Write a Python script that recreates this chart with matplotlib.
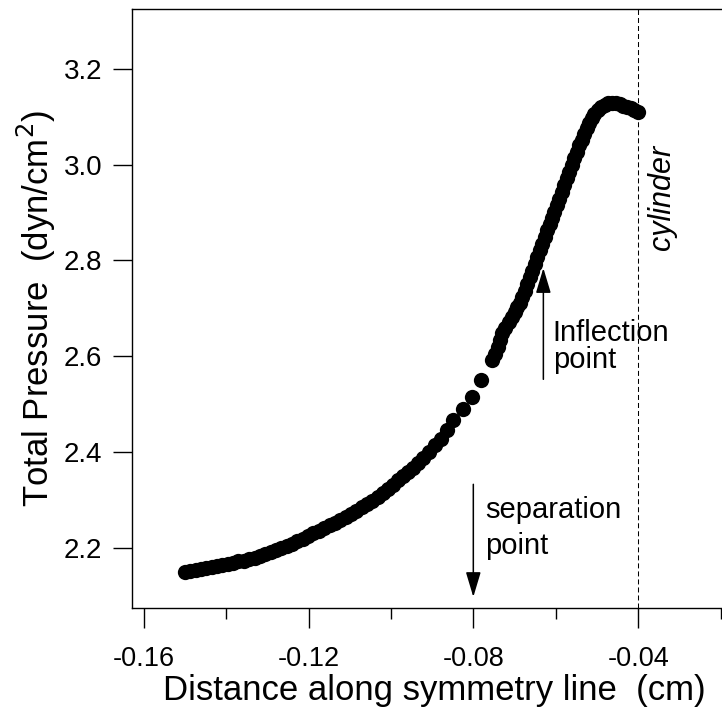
import matplotlib
matplotlib.use('Agg')
import matplotlib.pyplot as plt
from matplotlib.ticker import MultipleLocator

plt.rcParams['font.family'] = ['Liberation Sans', 'DejaVu Sans']

# distance along symmetry line (cm) and total pressure (dyn/cm^2)
distance = [
    -0.1500, -0.1487, -0.1474, -0.1461, -0.1448, -0.1435, -0.1422, -0.1409,
    -0.1396, -0.1383, -0.1370, -0.1357, -0.1344, -0.1331, -0.1318, -0.1305,
    -0.1292, -0.1279, -0.1266, -0.1253, -0.1240, -0.1227, -0.1214, -0.1201,
    -0.1188, -0.1175, -0.1162, -0.1149, -0.1136, -0.1123, -0.1110, -0.1097,
    -0.1084, -0.1071, -0.1058, -0.1045, -0.1032, -0.1019, -0.1006, -0.0994,
    -0.0982, -0.0970, -0.0958, -0.0946, -0.0934, -0.0921, -0.0907, -0.0893,
    -0.0879, -0.0864, -0.0849, -0.0824, -0.0802, -0.0782, -0.0755, -0.0748,
    -0.0739, -0.0735, -0.0731, -0.0722, -0.0714, -0.0707, -0.0700, -0.0693,
    -0.0687, -0.0681, -0.0675, -0.0669, -0.0663, -0.0657, -0.0651, -0.0645,
    -0.0639, -0.0633, -0.0627, -0.0621, -0.0615, -0.0609, -0.0603, -0.0597,
    -0.0591, -0.0585, -0.0579, -0.0573, -0.0567, -0.0561, -0.0555, -0.0549,
    -0.0543, -0.0537, -0.0531, -0.0525, -0.0519, -0.0513, -0.0506, -0.0498,
    -0.0490, -0.0481, -0.0472, -0.0463, -0.0454, -0.0445, -0.0436, -0.0427,
    -0.0418, -0.0409, -0.0400,
]
pressure = [
    2.151, 2.153, 2.155, 2.157, 2.159, 2.161, 2.163, 2.165,
    2.167, 2.169, 2.172, 2.174, 2.177, 2.180, 2.184, 2.188,
    2.192, 2.196, 2.200, 2.204, 2.209, 2.214, 2.219, 2.225,
    2.231, 2.236, 2.242, 2.248, 2.253, 2.259, 2.265, 2.271,
    2.278, 2.285, 2.292, 2.299, 2.307, 2.315, 2.324, 2.332,
    2.341, 2.350, 2.359, 2.368, 2.377, 2.388, 2.400, 2.414,
    2.428, 2.446, 2.468, 2.491, 2.516, 2.550, 2.592, 2.605,
    2.620, 2.633, 2.648, 2.660, 2.672, 2.682, 2.692, 2.702,
    2.712, 2.724, 2.737, 2.751, 2.765, 2.779, 2.793, 2.807,
    2.821, 2.835, 2.849, 2.863, 2.876, 2.889, 2.902, 2.915,
    2.929, 2.943, 2.957, 2.971, 2.985, 2.999, 3.013, 3.027,
    3.040, 3.052, 3.064, 3.076, 3.087, 3.097, 3.106, 3.114,
    3.120, 3.125, 3.128, 3.129, 3.128, 3.126, 3.123, 3.120,
    3.117, 3.114, 3.110,
]

x_ticks = [-0.16, -0.12, -0.08, -0.04]
x_tick_labels = ['-0.16', '-0.12', '-0.08', '-0.04']
y_ticks = [2.2, 2.4, 2.6, 2.8, 3.0, 3.2]
y_tick_labels = ['2.2', '2.4', '2.6', '2.8', '3.0', '3.2']

cylinder_x = -0.04
inflection_x = -0.063
inflection_arrow = (2.552, 2.784)   # tail, tip
separation_x = -0.08
separation_arrow = (2.333, 2.098)

fig = plt.figure(figsize=(7.22, 7.09), dpi=100)
ax = fig.add_axes([0.1835, 0.1420, 0.8373, 0.8453])

ax.plot(distance, pressure, 'o', color='black', markersize=11, markeredgewidth=0)

ax.axvline(cylinder_x, color='black', lw=0.75, ls=(0, (4.8, 2.9)))

ax.set_xlim(-0.16272, -0.016)
ax.set_ylim(2.0743, 3.3245)

ax.set_xticks(x_ticks)
ax.set_xticklabels(x_tick_labels)
ax.xaxis.set_minor_locator(MultipleLocator(0.02))
ax.set_yticks(y_ticks)
ax.set_yticklabels(y_tick_labels)

ax.tick_params(axis='x', which='major', direction='out', length=14.4, width=1,
               labelsize=19.5, pad=13)
ax.tick_params(axis='x', which='minor', direction='out', length=7.6, width=1)
ax.tick_params(axis='y', which='major', direction='out', length=13.7, width=1,
               labelsize=20, pad=8)
for side in ['left', 'bottom', 'top']:
    ax.spines[side].set_linewidth(1)
ax.spines['right'].set_visible(False)

ax.set_xlabel('Distance along symmetry line  (cm)', fontsize=25, labelpad=1)
ax.set_ylabel('Total Pressure  (dyn/cm$^2$)', fontsize=25, labelpad=4)

arrow_style = '-|>,head_length=1.1,head_width=0.33'
ax.annotate('', xy=(inflection_x, inflection_arrow[1]),
            xytext=(inflection_x, inflection_arrow[0]),
            arrowprops=dict(arrowstyle=arrow_style, color='black', lw=1.1,
                            mutation_scale=14, shrinkA=0, shrinkB=0))
ax.annotate('', xy=(separation_x, separation_arrow[1]),
            xytext=(separation_x, separation_arrow[0]),
            arrowprops=dict(arrowstyle=arrow_style, color='black', lw=1.1,
                            mutation_scale=14, shrinkA=0, shrinkB=0))

ax.text(-0.0607, 2.6315, 'Inflection', fontsize=21, va='baseline', ha='left')
ax.text(-0.0607, 2.5765, 'point', fontsize=21, va='baseline', ha='left')
ax.text(-0.0772, 2.2625, 'separation', fontsize=21, va='baseline', ha='left')
ax.text(-0.0772, 2.1875, 'point', fontsize=21, va='baseline', ha='left')

ax.text(-0.0342, 2.932, 'cylinder', fontsize=22, style='italic', rotation=90,
        ha='center', va='center')

fig.savefig('out.png', dpi=100)
